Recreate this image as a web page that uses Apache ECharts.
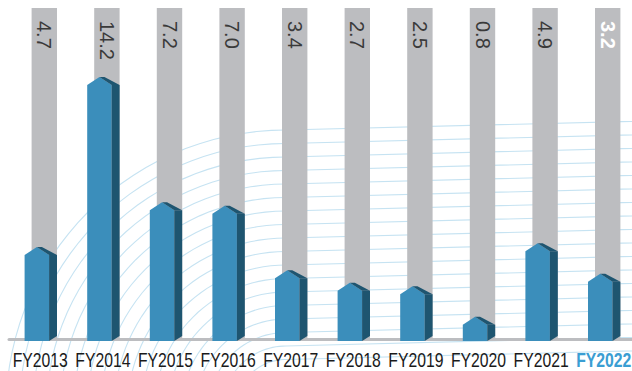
<!DOCTYPE html>
<html><head><meta charset="utf-8">
<script src="https://cdn.jsdelivr.net/npm/echarts@6/dist/echarts.min.js"></script>
<style>html,body{margin:0;padding:0;background:#fff}#c{width:632px;height:371px}</style>
</head><body><div id="c"></div>
<script>
const categories = ['FY2013','FY2014','FY2015','FY2016','FY2017','FY2018','FY2019','FY2020','FY2021','FY2022'];
const values = [4.7, 14.2, 7.2, 7.0, 3.4, 2.7, 2.5, 0.8, 4.9, 3.2];
const valueLabels = ['4.7','14.2','7.2','7.0','3.4','2.7','2.5','0.8','4.9','3.2'];
const axisMax = 18.5;
const highlightIndex = 9;

const chart = echarts.init(document.getElementById('c'), null, {renderer: 'svg'});

// decorative background swirl lines (quarter arcs continuing as gently rising lines)
const bg = [];
const ox = 286, oy = 410;
for (let k = 0; k < 18; k++) {
  const r = 280 - k * 13.5;
  const pts = [];
  for (let a = 0; a <= 90; a += 3) {
    const t = a * Math.PI / 180;
    pts.push([ox - r * Math.cos(t), oy - r * Math.sin(t)]);
  }
  pts.push([700, oy - r - (700 - ox) * 0.025]);
  bg.push({type: 'polyline', silent: true, z: -10,
    shape: {points: pts},
    style: {fill: null, stroke: '#c6e3f2', lineWidth: 1.1}});
}

const FONT = '"Liberation Sans", Arial, sans-serif';

function renderItem(params, api) {
  const i = api.value(0), v = api.value(1);
  const c = api.coord([i, v]);
  const base = api.coord([i, 0])[1];
  const top = api.coord([i, axisMax])[1];
  const cx = c[0];
  const gL = cx - 8.7, gR = cx + 16.7;
  const L = cx - 15.7, R = cx + 8.8, R2 = cx + 16.7;
  const ty = c[1], px = (L + R) / 2, py = ty - 8;
  const hl = i === highlightIndex;
  return {type: 'group', children: [
    {type: 'rect', shape: {x: gL, y: top, width: gR - gL, height: base - top}, style: {fill: '#bcbdc0'}},
    {type: 'text', x: cx + 4, y: top + 13, rotation: -Math.PI / 2,
      style: {text: valueLabels[i], fill: hl ? '#ffffff' : '#3a3a3a', fontSize: 20,
        fontWeight: hl ? 'bold' : 'normal', fontFamily: FONT,
        align: 'left', verticalAlign: 'middle'}},
    {type: 'polygon', shape: {points: [[L, ty], [px, py], [R, ty], [R, base + 2], [L, base + 2]]}, style: {fill: '#3b8ebb'}},
    {type: 'polygon', shape: {points: [[px, py], [px + 5, py], [R2, ty], [R, ty]]}, style: {fill: '#1e5570'}},
    {type: 'polygon', shape: {points: [[R, ty], [R2, ty], [R2, base - 3], [R, base + 2]]}, style: {fill: '#1e5570'}},
    {type: 'text', x: cx, y: base + 21, scaleX: 0.75,
      style: {text: categories[i], fill: hl ? '#3a9ed3' : '#1a1a1a', fontSize: 21,
        fontWeight: hl ? 'bold' : 'normal', fontFamily: FONT,
        align: 'center', verticalAlign: 'middle'}}
  ]};
}

chart.setOption({
  animation: false,
  backgroundColor: '#ffffff',
  graphic: bg,
  grid: {left: 9, right: -3, top: 8, bottom: 32, containLabel: false, outerBoundsMode: 'none'},
  xAxis: {
    type: 'category', data: categories,
    axisLine: {show: true, lineStyle: {color: '#bcbdc0', width: 3}},
    axisTick: {show: false},
    axisLabel: {show: false},
    splitLine: {show: false}
  },
  yAxis: {type: 'value', min: 0, max: axisMax, show: false, splitLine: {show: false}},
  series: [{
    type: 'custom', renderItem: renderItem, clip: false,
    data: values.map((v, i) => [i, v]),
    encode: {x: 0, y: 1}
  }]
});
</script>
</body></html>
